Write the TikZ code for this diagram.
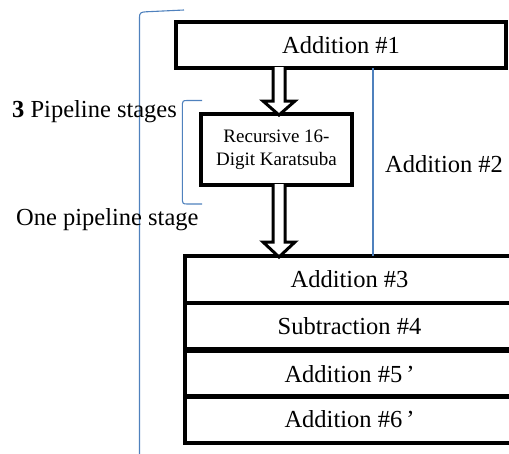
\documentclass[tikz,border=0pt]{standalone}
\usepackage{fontspec}
\setmainfont{Liberation Serif}
\usetikzlibrary{calc}
\begin{document}
\begin{tikzpicture}[x=1pt,y=-1pt,
  blk/.style={draw=black, line width=4pt, rectangle, inner sep=0pt, outer sep=0pt,
    font=\fontsize{24.5}{28}\selectfont},
  row/.style={blk, minimum width=330pt, minimum height=46.5pt},
  lbl/.style={inner sep=0pt, font=\fontsize{24.5}{28}\selectfont},
  bluel/.style={draw={rgb,255:red,79;green,129;blue,189}, line width=1.1pt},
  fatarrow/.style={draw=black, fill=white, line width=3pt, line join=miter}
]
\useasboundingbox (0,0) rectangle (509,453);
\clip (0,0) rectangle (509,453);

% boxes
\node[blk, minimum width=330pt, minimum height=46pt] (add1) at (341,45) {Addition \#1};
\node[blk, minimum width=151pt, minimum height=71pt, align=center,
  font=\fontsize{19}{23}\selectfont] (kar) at (276.5,149.5) {Recursive 16-\\Digit Karatsuba};
\node[row] (r1) at (349.5,279.25) {Addition \#3};
\node[row] (r2) at (349.5,325.75) {Subtraction \#4};
\node[row] (r3) at (349.5,373.75) {Addition \#5\,’};
\node[row] (r4) at (349.5,419.5) {Addition \#6\,’};

% fat arrows
\coordinate (ax) at (279,0);
\coordinate (a1s) at (add1.south -| ax);
\coordinate (k1n) at (kar.north -| ax);
\coordinate (k1s) at (kar.south -| ax);
\coordinate (r1n) at (r1.north -| ax);
\draw[fatarrow] let \p1=(a1s), \p2=(k1n) in
  (\x1-6,\y1+1) -- (\x1-6,\y2+13) -- (\x1-16,\y2+13) -- (\x1,\y2-1) --
  (\x1+16,\y2+13) -- (\x1+6,\y2+13) -- (\x1+6,\y1+1);
\draw[fatarrow] let \p1=(k1s), \p2=(r1n) in
  (\x1-6,\y1+1) -- (\x1-6,\y2+14) -- (\x1-16,\y2+14) -- (\x1,\y2-1) --
  (\x1+16,\y2+14) -- (\x1+6,\y2+14) -- (\x1+6,\y1+1);

% blue lines
\coordinate (bx) at (373,0);
\draw[bluel] (add1.south -| bx) -- (r1.north -| bx);
\coordinate (bb) at (139.5,460);
\coordinate (bt) at (184,10);
\draw[bluel] (bb) -- (139.5,17) .. controls (139.5,13) and (141,12) .. (146,11.8) -- (bt);
\coordinate (sbt) at (202,100.5);
\coordinate (sbb) at (202,204);
\draw[bluel] (sbt) -- (187,100.5) .. controls (183,100.5) and (182.3,101.5) .. (182.3,104)
  -- (182.3,200.5) .. controls (182.3,203) and (183,204) .. (187,204) -- (sbb);

% labels
\node[lbl, anchor=base west] (l3) at (12,117) {\textbf{3} Pipeline stages};
\node[lbl, anchor=base west] (l1) at (16,225) {One pipeline stage};
\node[lbl, anchor=base west] (l2) at (385,172) {Addition \#2};
\end{tikzpicture}
\end{document}
